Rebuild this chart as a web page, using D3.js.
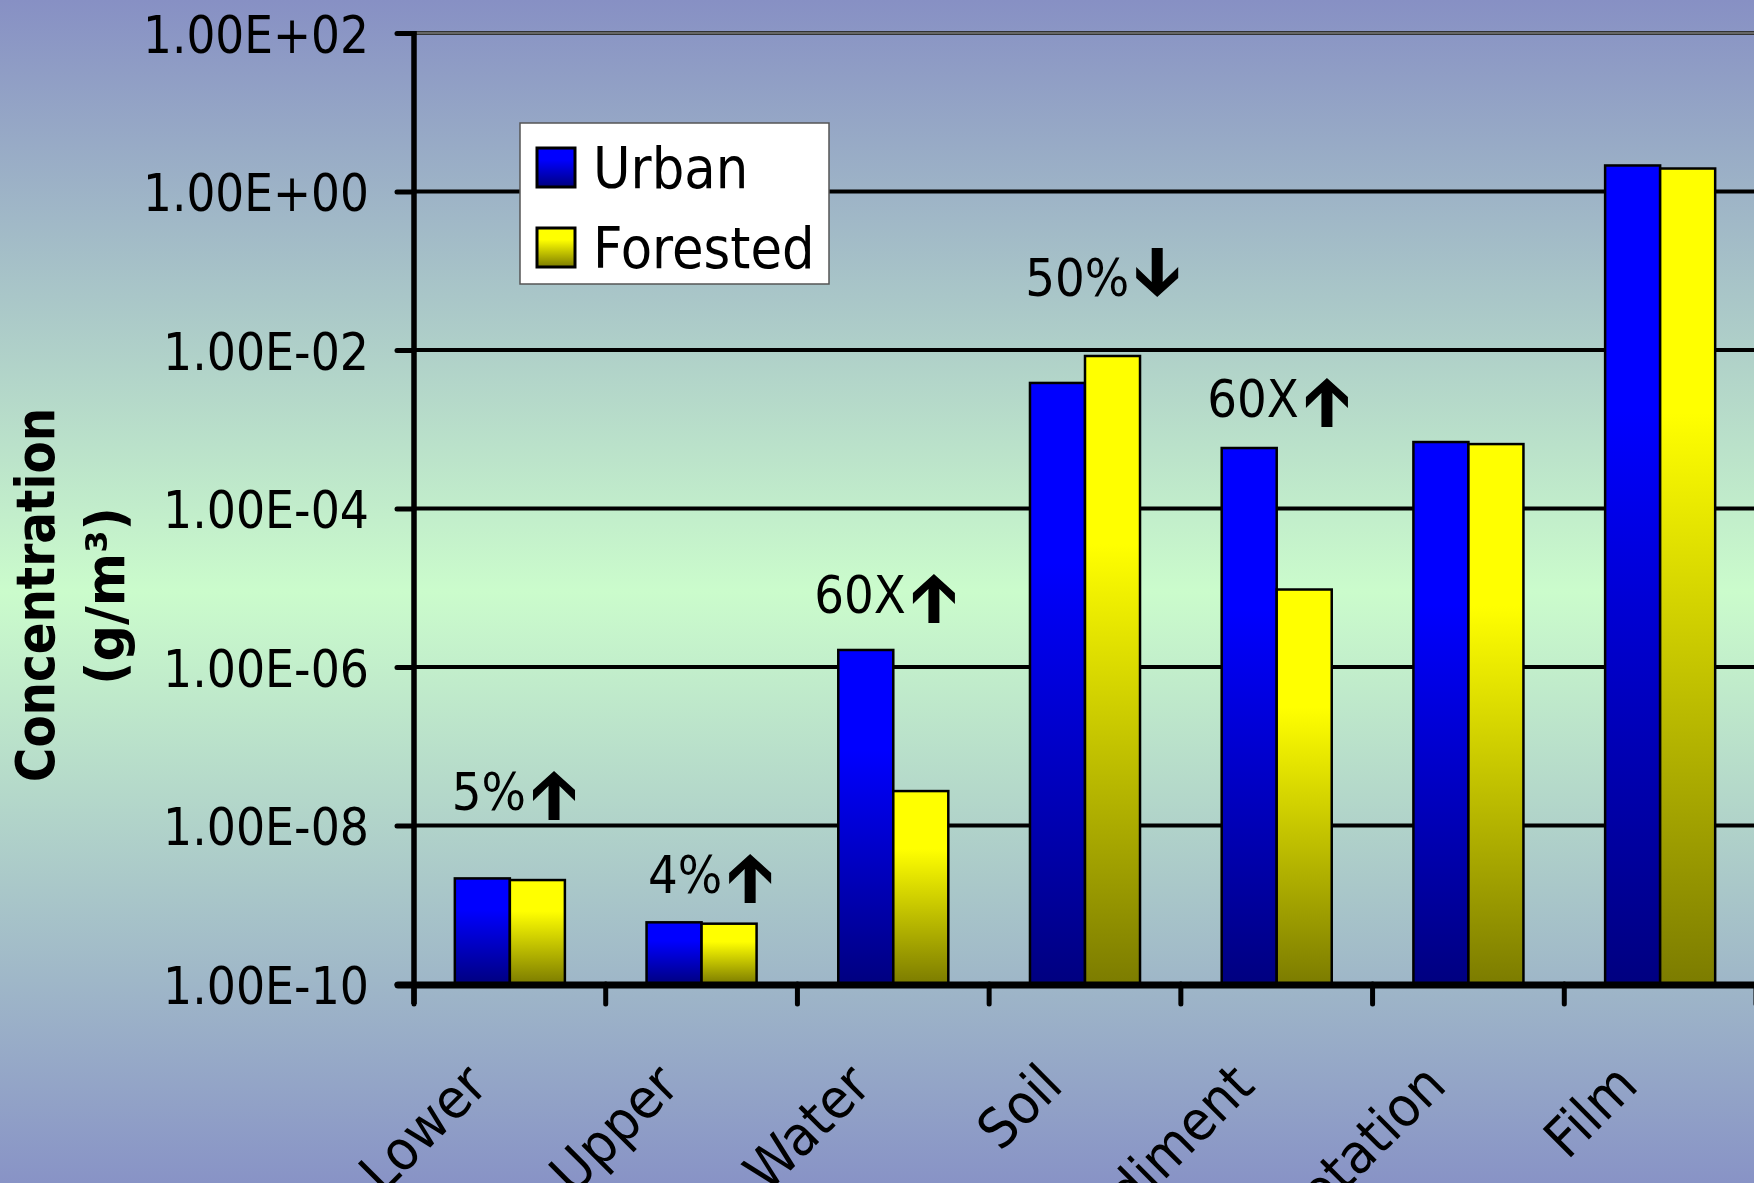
<!DOCTYPE html>
<html><head><meta charset="utf-8">
<script src="https://cdn.jsdelivr.net/npm/d3@7/dist/d3.min.js"></script>
<style>html,body{margin:0;padding:0;overflow:hidden;background:#8890c4}</style>
</head><body>
<script>
// ---------- data ----------
const categories = ["Air-Lower","Air-Upper","Water","Soil","Sediment","Vegetation","Film"];
const seriesNames = ["Urban","Forested"];
const urban    = [2.15e-9, 6.0e-10, 1.64e-6, 3.84e-3, 5.8e-4, 6.9e-4, 2.13];
const forested = [2.05e-9, 5.77e-10, 2.72e-8, 8.4e-3, 9.5e-6, 6.5e-4, 1.95];
const tickValues = [1e-10, 1e-8, 1e-6, 1e-4, 1e-2, 1e0, 1e2];
const tickLabels = ["1.00E-10","1.00E-08","1.00E-06","1.00E-04","1.00E-02","1.00E+00","1.00E+02"];
const annotText  = ["5%","4%","60X","50%","60X"];
const annotCat   = ["Air-Lower","Air-Upper","Water","Soil","Sediment"];
const annotDir   = ["up","up","up","down","up"];
const annotLevel = [1.57e-8, 1.41e-9, 4.8e-6, 4.8e-2, 1.43e-3];   // baseline level (data units)
const annotShift = [-0.303, -0.280, -0.412, -0.312, -0.362];      // start offset in band widths
const yTitle = ["Concentration","(g/m³)"];

// ---------- setup ----------
const W = 1754, H = 1183;
const FONT = "'DejaVu Sans', Verdana, sans-serif";
const svg = d3.select("body").append("svg").attr("width", W).attr("height", H);
const defs = svg.append("defs");
const bg = defs.append("linearGradient").attr("id","bg").attr("x1",0).attr("y1",0).attr("x2",0).attr("y2",1);
[[0,"#8790c4"],[0.5,"#cbfccc"],[1,"#8893c6"]].forEach(([o,c]) => bg.append("stop").attr("offset",o).attr("stop-color",c));
svg.append("rect").attr("width",W).attr("height",H).attr("fill","url(#bg)");

const palette = {Urban:["#0000ff","#000080"], Forested:["#ffff00","#7c7c00"]};
seriesNames.forEach((s,i) => {
  const g = defs.append("linearGradient").attr("id","grad"+i).attr("x1",0).attr("y1",0).attr("x2",0).attr("y2",1);
  g.append("stop").attr("offset",0).attr("stop-color",palette[s][0]);
  g.append("stop").attr("offset",0.3).attr("stop-color",palette[s][0]);
  g.append("stop").attr("offset",1).attr("stop-color",palette[s][1]);
});

const x = d3.scaleBand().domain(categories).range([414, 1756]).paddingInner(0).paddingOuter(0);
const bw = x.bandwidth();
const xs = d3.scaleBand().domain(seriesNames).range([bw*0.213, bw*0.787]).padding(0);
const y = d3.scaleLog().domain([1e-10, 1e2]).range([984, 33]);
const y0 = y(1e-10);

function condense(sel, f){
  sel.each(function(){ const n = this.getComputedTextLength();
    d3.select(this).attr("textLength", n*f).attr("lengthAdjust","spacingAndGlyphs"); });
}

// ---------- gridlines ----------
svg.append("g").selectAll("line").data(tickValues.slice(1,-1)).join("line")
  .attr("x1", 414).attr("x2", W).attr("y1", d=>y(d)).attr("y2", d=>y(d))
  .attr("stroke","#000").attr("stroke-width",4);
svg.append("line").attr("x1",414).attr("x2",W).attr("y1",y(1e2)).attr("y2",y(1e2))
  .attr("stroke","#333").attr("stroke-width",4);
svg.append("line").attr("x1",414).attr("x2",W).attr("y1",y(1e2)).attr("y2",y(1e2))
  .attr("stroke","#9a9a9a").attr("stroke-width",1);

// ---------- bars ----------
const rows = categories.map((c,i) => ({cat:c, vals:[urban[i], forested[i]]}));
const cg = svg.append("g").selectAll("g").data(rows).join("g")
  .attr("transform", d => `translate(${x(d.cat)},0)`);
cg.selectAll("rect").data(d => d.vals.map((v,j)=>({s:seriesNames[j], j, v}))).join("rect")
  .attr("x", d => xs(d.s)).attr("width", xs.bandwidth())
  .attr("y", d => y(d.v)).attr("height", d => y0 - y(d.v))
  .attr("fill", d => `url(#grad${d.j})`).attr("stroke","#000").attr("stroke-width",2.5);

// ---------- axes ----------
const yAxis = d3.axisLeft(y).tickValues(tickValues).tickFormat((d,i)=>tickLabels[i]).tickSize(17).tickPadding(28);
const ya = svg.append("g").attr("transform","translate(414,0)").call(yAxis);
ya.select(".domain").remove();
ya.selectAll(".tick line").attr("stroke","#000").attr("stroke-width",5).attr("stroke-linecap","round");
ya.selectAll(".tick text").attr("font-family",FONT).attr("font-size",51).attr("fill","#000")
  .attr("dy",null).attr("y",19)
  .attr("textLength",(d,i)=> tickLabels[i].includes("+") ? 226 : 206)
  .attr("lengthAdjust","spacingAndGlyphs");
svg.append("line").attr("x1",414).attr("x2",414).attr("y1",y(1e2)-2).attr("y2",1004)
  .attr("stroke","#000").attr("stroke-width",5.5);
svg.append("line").attr("x1",398).attr("x2",W).attr("y1",y0+1).attr("y2",y0+1)
  .attr("stroke","#000").attr("stroke-width",7).attr("stroke-linecap","round");
const bounds = categories.map(c=>x(c)).concat([x(categories[categories.length-1])+bw]);
svg.append("g").selectAll("line").data(bounds).join("line")
  .attr("x1",d=>d).attr("x2",d=>d).attr("y1",y0).attr("y2",1004)
  .attr("stroke","#000").attr("stroke-width",5).attr("stroke-linecap","round");

// category labels
svg.append("g").selectAll("text").data(categories).join("text")
  .attr("transform", d => `translate(${x(d)+bw/2-20},1088) rotate(-45)`)
  .attr("text-anchor","end").attr("font-family",FONT).attr("font-size",55).attr("fill","#000")
  .text(d=>d).call(condense,0.92);

// y title
svg.append("text").attr("transform","translate(54,595) rotate(-90)").attr("text-anchor","middle")
  .attr("font-family",FONT).attr("font-weight","bold").attr("font-size",53)
  .attr("textLength",374).attr("lengthAdjust","spacingAndGlyphs").text(yTitle[0]);
svg.append("text").attr("transform","translate(124,596) rotate(-90)").attr("text-anchor","middle")
  .attr("font-family",FONT).attr("font-weight","bold").attr("font-size",53)
  .attr("textLength",178).attr("lengthAdjust","spacingAndGlyphs").text(yTitle[1]);

// ---------- annotations ----------
const upArrow = "M0,0 L21,19 L21,30 L5.5,15 L5.5,49 L-5.5,49 L-5.5,15 L-21,30 L-21,19 Z";
const downArrow = "M0,0 L21,-19 L21,-30 L5.5,-15 L5.5,-49 L-5.5,-49 L-5.5,-15 L-21,-30 L-21,-19 Z";
annotText.forEach((t,i) => {
  const bx = x(annotCat[i]) + bw/2 + annotShift[i]*bw;
  const by = y(annotLevel[i]);
  const tx = svg.append("text").attr("x",bx).attr("y",by).attr("font-family",FONT)
    .attr("font-size",52).attr("fill","#000").text(t).call(condense,0.9);
  const w = +tx.attr("textLength");
  const ax = bx + w + 28;
  if (annotDir[i]==="up") {
    svg.append("path").attr("d",upArrow).attr("transform",`translate(${ax},${by-39})`).attr("fill","#000");
  } else {
    svg.append("path").attr("d",downArrow).attr("transform",`translate(${ax},${by+1})`).attr("fill","#000");
  }
});

// ---------- legend ----------
const lg = svg.append("g");
lg.append("rect").attr("x",520).attr("y",123).attr("width",309).attr("height",161)
  .attr("fill","#fff").attr("stroke","#555").attr("stroke-width",1.5);
seriesNames.forEach((s,i) => {
  const top = 148 + i*80;
  lg.append("rect").attr("x",537).attr("y",top).attr("width",38).attr("height",39)
    .attr("fill",`url(#grad${i})`).attr("stroke","#000").attr("stroke-width",3);
  lg.append("text").attr("x",593).attr("y",top+40).attr("font-family",FONT).attr("font-size",57)
    .attr("fill","#000").text(s).call(condense,0.9);
});
</script>
</body></html>
